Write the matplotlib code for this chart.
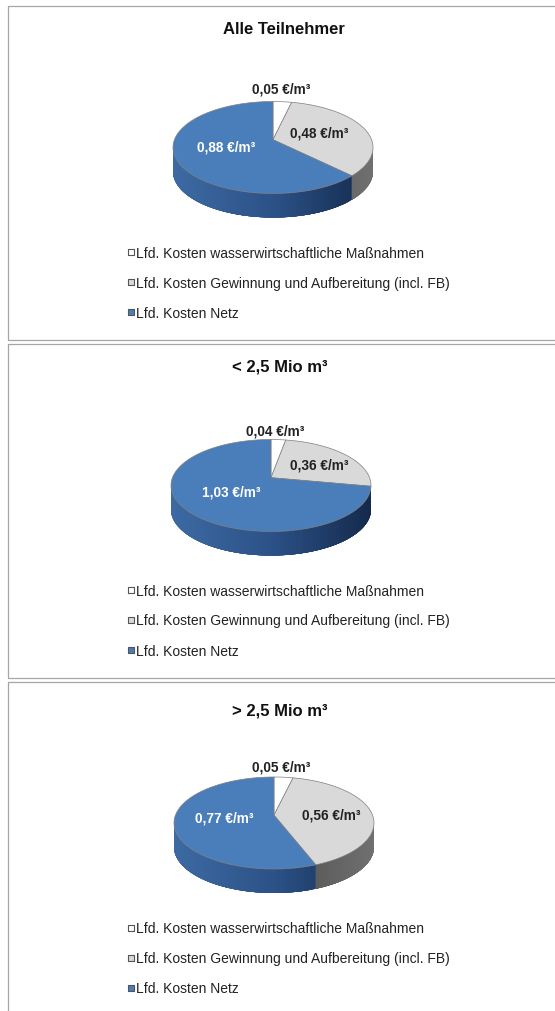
import numpy as np
import matplotlib
matplotlib.use("Agg")
import matplotlib.pyplot as plt
from matplotlib.collections import PolyCollection
from matplotlib.colors import to_rgb

W, H = 555, 1012

titles = ["Alle Teilnehmer", "< 2,5 Mio m³", "> 2,5 Mio m³"]
legend_labels = ["Lfd. Kosten wasserwirtschaftliche Maßnahmen",
                 "Lfd. Kosten Gewinnung und Aufbereitung (incl. FB)",
                 "Lfd. Kosten Netz"]
massnahmen = [0.05, 0.04, 0.05]
gewinnung = [0.48, 0.36, 0.56]
netz = [0.88, 1.03, 0.77]

colors = ["#ffffff", "#d9d9d9", "#4a7ebb"]
text_colors = ["#222222", "#222222", "#ffffff"]
# side wall shades over the width of the pie, 0 = left edge, 1 = right edge
side_stops = [None,
              ([0.6, 1.0], ["#555555", "#707070"]),
              ([0.0, 0.5, 1.0], ["#3d6aa3", "#2c5288", "#142a4c"])]

# panel layout, in pixels of the figure
panel_top = [7, 345, 683]
panel_h = 334
title_xy = [(284, 29), (280, 367), (280, 711)]
centers = [(273, 148.5), (271, 486.5), (274, 824)]
rx, ry = 100, 46
depth = 24
persp = 0.17
# label anchors relative to the pie centre, one per wedge
label_pos = [[(8, -59), (46, -15), (-47, -1)],
             [(4, -55), (48, -21), (-40, 6)],
             [(7, -57), (57, -8), (-50, -5)]]

plt.rcParams['font.family'] = ['Liberation Sans', 'DejaVu Sans']


def project(theta):
    # clockwise angle from 12 o'clock -> tilted disc
    x, y = np.sin(theta), np.cos(theta)
    den = 1 + persp * y
    return x * np.sqrt(1 - persp ** 2) / den, (y + persp) / den


def side_color(stops, t):
    pos, cols = stops
    rgb = np.array([to_rgb(c) for c in cols])
    return [np.interp(t, pos, rgb[:, i]) for i in range(3)]


def draw_pie(ax, vals, cx, cy, labels_xy):
    fracs = np.array(vals) / sum(vals)
    edges = np.concatenate([[0], np.cumsum(fracs)]) * 2 * np.pi
    for k in range(len(vals)):
        th = np.linspace(edges[k], edges[k + 1], 300)
        px, py = project(th)
        front = py <= 0
        if front.sum() < 2 or side_stops[k] is None:
            continue
        xf, yf = cx + rx * px[front], cy - ry * py[front]
        n = len(xf)
        quads, cols = [], []
        # each strip overlaps the next ones, this hides the seams
        for i in range(n - 1):
            j = min(i + 6, n - 1)
            top_edge = list(zip(xf[i:j + 1], yf[i:j + 1]))
            bottom_edge = list(zip(xf[i:j + 1], yf[i:j + 1] + depth))
            quads.append(top_edge + bottom_edge[::-1])
            cols.append(side_color(side_stops[k], (px[front][i] + 1) / 2))
        ax.add_collection(PolyCollection(quads, facecolors=cols, edgecolors="none",
                                         linewidths=0, zorder=2))
    vy = cy - ry * persp
    for k in range(len(vals)):
        th = np.linspace(edges[k], edges[k + 1], 300)
        px, py = project(th)
        xs = np.concatenate([[cx], cx + rx * px])
        ys = np.concatenate([[vy], cy - ry * py])
        ax.fill(xs, ys, facecolor=colors[k], edgecolor="#7f7f7f", linewidth=0.5, zorder=3)
        lx, ly = labels_xy[k]
        ax.text(cx + lx, cy + ly, f"{vals[k]:.2f} €/m³".replace(".", ","),
                ha="center", va="center", fontsize=9.8, fontweight="bold",
                color=text_colors[k], zorder=4)


fig = plt.figure(figsize=(W / 100, H / 100), dpi=100, facecolor="white")
ax = fig.add_axes([0, 0, 1, 1])
ax.set_xlim(0, W)
ax.set_ylim(H, 0)
ax.axis("off")

for p in range(3):
    top = panel_top[p]
    ax.plot([W + 5, 8, 8, W + 5], [top, top, top + panel_h, top + panel_h],
            color="#a6a6a6", linewidth=0.9, zorder=1)
    ax.text(title_xy[p][0], title_xy[p][1], titles[p], ha="center", va="center",
            fontsize=12, fontweight="bold", color="#111111")
    vals = [massnahmen[p], gewinnung[p], netz[p]]
    cx, cy = centers[p]
    draw_pie(ax, vals, cx, cy, label_pos[p])
    for k in range(3):
        ly = top + 246 + 30 * k
        ax.scatter([131], [ly], marker="s", s=22, facecolor=colors[k],
                   edgecolor="#555555", linewidth=0.8, zorder=3)
        ax.text(136, ly + 0.5, legend_labels[k], ha="left", va="center",
                fontsize=10, color="#222222")

fig.savefig("out.png", dpi=100)
